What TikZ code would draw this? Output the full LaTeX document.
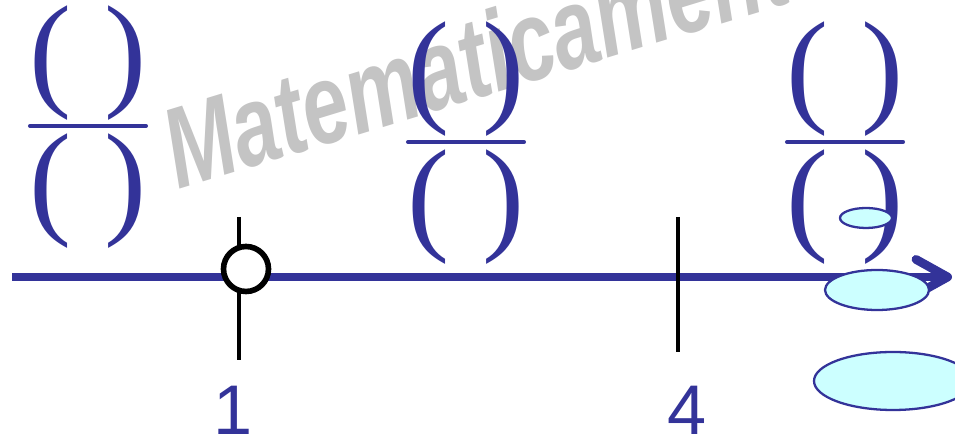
\documentclass[tikz,border=0pt]{standalone}
\usepackage{fontspec}
\usepackage{xcolor}
\usepackage{tikz}
\usetikzlibrary{arrows.meta}
\newfontfamily\parenfont{Liberation Serif}
\newfontfamily\labelfont{Liberation Sans}
\definecolor{axisblue}{RGB}{51,51,153}
\definecolor{markgray}{RGB}{196,196,196}
\definecolor{blobcyan}{RGB}{204,255,255}

\begin{document}
\begin{tikzpicture}[x=0.02cm,y=0.02cm,
    paren/.style={inner sep=0pt,text=axisblue,font=\parenfont\fontsize{72}{72}\selectfont},
    fracbar/.style={axisblue,line width=2.3pt,line cap=round},
    tickline/.style={black,line width=2.1pt},
    numlabel/.style={inner sep=0pt,text=axisblue,font=\labelfont\fontsize{40}{40}\selectfont},
    blob/.style={draw=axisblue,fill=blobcyan,line width=1.3pt},
    numaxis/.style={-{Straight Barb[length=18pt,width=20pt,line width=5pt,round]},axisblue,line width=4.3pt}]
  \useasboundingbox (0,0) rectangle (955,438);
  % watermark
  \node[rotate=17,anchor=base west,inner sep=0pt,text=markgray,
        font=\labelfont\bfseries\itshape\fontsize{52}{52}\selectfont] (mark) at (178,248)
        {\scalebox{0.9}[1.25]{Matematicamente}};
  % fractions
  \foreach \fx/\fy/\nm in {88/375/a,466/359/b,845/359/c}{
    \node[paren] (top\nm) at (\fx,\fy) {(\hspace{19pt})};
    \node[paren] (bot\nm) at (\fx,\fy-128) {(\hspace{19pt})};
    \draw[fracbar] (\fx-58,\fy-63) -- (\fx+58,\fy-63);
  }
  % number line
  \coordinate (start) at (12,161);
  \coordinate (end) at (952,161);
  \draw[numaxis] (start) -- (end);
  \coordinate (onetop) at (239,221);
  \coordinate (onebot) at (239,78);
  \coordinate (fourtop) at (678,221);
  \coordinate (fourbot) at (678,86);
  \draw[tickline] (onetop) -- (onebot);
  \draw[tickline] (fourtop) -- (fourbot);
  \node[circle,draw=black,fill=white,line width=3.2pt,minimum size=0.9cm,inner sep=0pt] (hole) at (246,169) {};
  \node[numlabel] (one) at (233,28) {1};
  \node[numlabel] (four) at (687,28) {4};
  % blobs
  \draw[blob] (866,220) ellipse (26 and 10);
  \draw[blob] (877,148) ellipse (52 and 20);
  \draw[blob] (893,57) ellipse (79 and 29);
\end{tikzpicture}
\end{document}
